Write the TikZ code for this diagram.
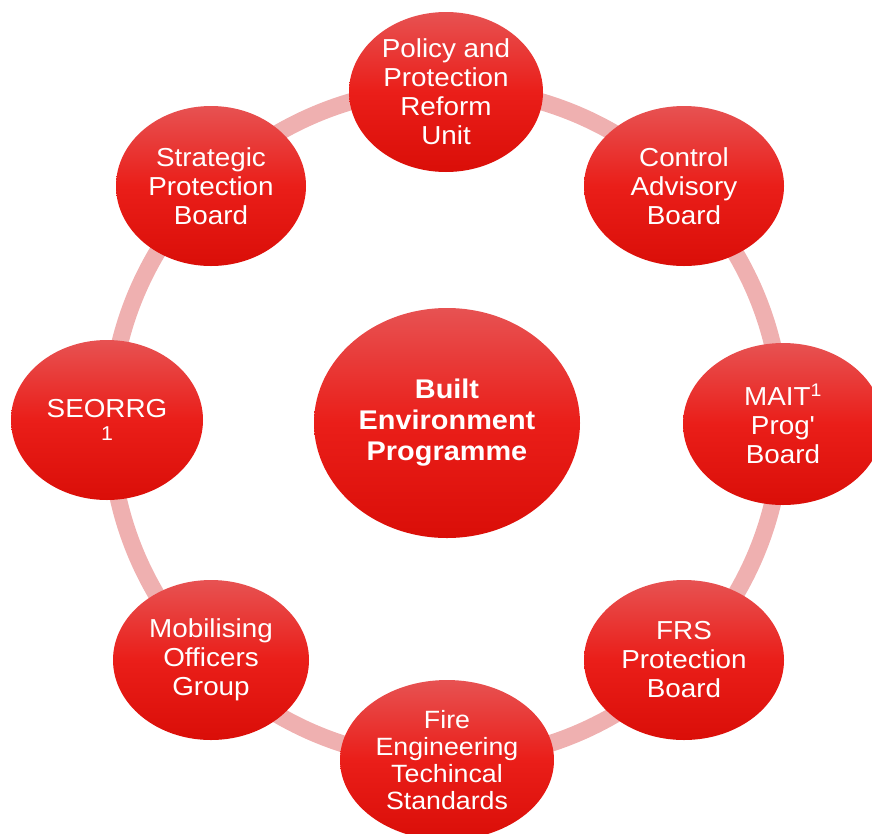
\documentclass[tikz,border=0pt]{standalone}
\usepackage{fontspec}
\setmainfont[FakeStretch=1.07]{Liberation Sans}
\newfontfamily\plainq[FakeStretch=1.07]{Liberation Sans}
\usetikzlibrary{shapes.geometric}
\definecolor{ringpink}{RGB}{239,176,176}
\definecolor{redtop}{RGB}{231,82,82}
\definecolor{redmid}{RGB}{234,30,25}
\definecolor{redbot}{RGB}{218,14,8}
\tikzset{
  bubble/.style={ellipse, inner sep=0pt, draw=none, top color=redtop, bottom color=redbot, middle color=redmid,
    text=white, align=center, font=\fontsize{26}{29}\selectfont},
  ring/.style={draw=ringpink, line width=17pt},
}
\begin{document}
\begin{tikzpicture}[x=1pt,y=-1pt]
\useasboundingbox (0,0) rectangle (872,833);
\coordinate (rc) at (446,424);
\draw[ring] (rc) circle[radius=336];
\node[bubble, minimum width=194, minimum height=160] (pol) at (446,92) {Policy and\\Protection\\Reform\\Unit};
\node[bubble, minimum width=200, minimum height=160] (ctl) at (684,186) {Control\\Advisory\\Board};
\node[bubble, minimum width=200, minimum height=162] (mait) at (783,424) {MAIT\textsuperscript{1}\\Prog{\plainq '}\\Board};
\node[bubble, minimum width=200, minimum height=160] (frs) at (684,660) {FRS\\Protection\\Board};
\node[bubble, minimum width=214, minimum height=160, font=\fontsize{25}{27}\selectfont] (fire) at (447,760) {Fire\\Engineering\\Techincal\\Standards};
\node[bubble, minimum width=196, minimum height=160] (mob) at (211,660) {Mobilising\\Officers\\Group};
\node[bubble, minimum width=190, minimum height=160] (str) at (211,186) {Strategic\\Protection\\Board};
\node[bubble, minimum width=192, minimum height=160] (seo) at (107,420) {SEORRG\\[-6pt]{\fontsize{20}{22}\selectfont 1}};
\node[bubble, minimum width=266, minimum height=230, font=\fontsize{27}{31}\selectfont\bfseries] (bep) at (447,423) {Built\\Environment\\Programme};
\end{tikzpicture}
\end{document}
